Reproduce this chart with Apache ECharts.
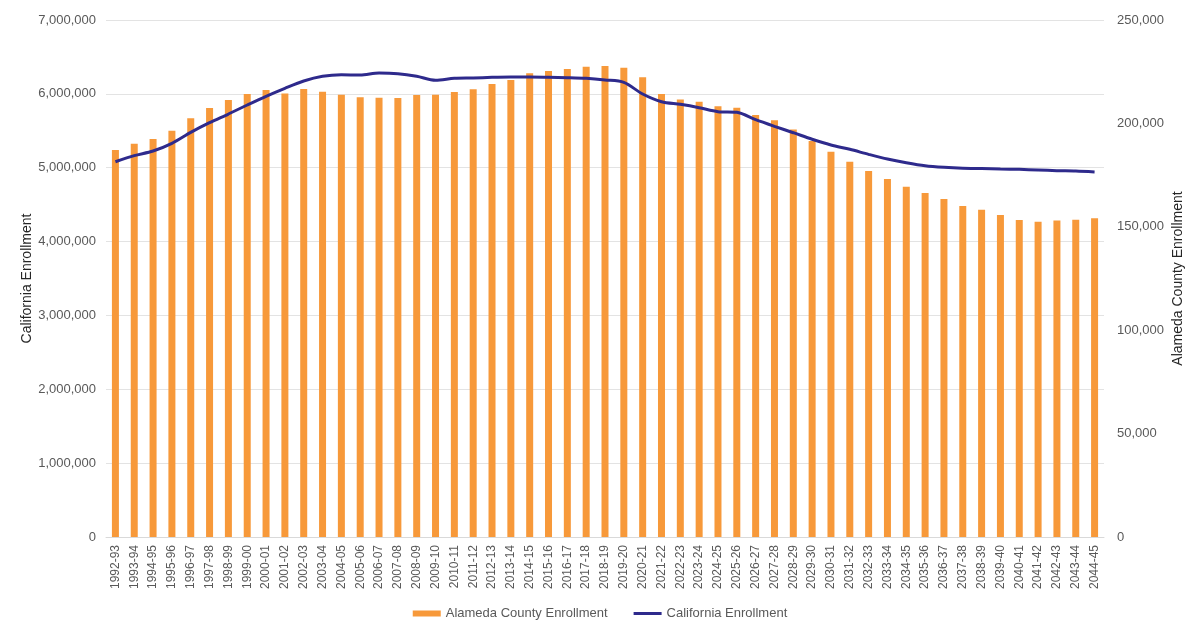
<!DOCTYPE html>
<html>
<head>
<meta charset="utf-8">
<script src="https://cdn.jsdelivr.net/npm/echarts@6/dist/echarts.min.js"></script>
<style>
  html, body { margin: 0; padding: 0; background: #fff; }
  #chart { width: 1200px; height: 625px; }
</style>
</head>
<body>
<div id="chart"></div>
<script>
// school years on the x axis
const years = [
  '1992-93', '1993-94', '1994-95', '1995-96', '1996-97', '1997-98', '1998-99', '1999-00',
  '2000-01', '2001-02', '2002-03', '2003-04', '2004-05', '2005-06', '2006-07', '2007-08',
  '2008-09', '2009-10', '2010-11', '2011-12', '2012-13', '2013-14', '2014-15', '2015-16',
  '2016-17', '2017-18', '2018-19', '2019-20', '2020-21', '2021-22', '2022-23', '2023-24',
  '2024-25', '2025-26', '2026-27', '2027-28', '2028-29', '2029-30', '2030-31', '2031-32',
  '2032-33', '2033-34', '2034-35', '2035-36', '2036-37', '2037-38', '2038-39', '2039-40',
  '2040-41', '2041-42', '2042-43', '2043-44', '2044-45'
];

// bars, right axis
const alamedaEnrollment = [
  187100, 190200, 192500, 196500, 202500, 207400, 211300, 214200, 216200, 214500,
  216600, 215300, 213900, 212600, 212400, 212300, 213700, 213900, 215200, 216500,
  219000, 221000, 224200, 225300, 226300, 227400, 227800, 226900, 222300, 214200,
  211600, 210500, 208300, 207600, 204100, 201500, 197000, 191500, 186300, 181500,
  177000, 173100, 169400, 166400, 163400, 160100, 158300, 155700, 153300, 152500,
  153000, 153400, 154100
];

// line, left axis
const californiaEnrollment = [
  5081000, 5163000, 5226000, 5330000, 5479000, 5610000, 5727000, 5849000, 5967000, 6075000,
  6174000, 6238000, 6259000, 6255000, 6282000, 6273000, 6238000, 6183000, 6210000, 6215000,
  6224000, 6228000, 6228000, 6224000, 6219000, 6210000, 6188000, 6156000, 5998000, 5894000,
  5858000, 5813000, 5759000, 5750000, 5650000, 5560000, 5474000, 5385000, 5308000, 5249000,
  5181000, 5118000, 5068000, 5027000, 5005000, 4992000, 4988000, 4983000, 4978000, 4969000,
  4960000, 4955000, 4942000
];

const font = '"Liberation Sans", Arial, sans-serif';
const fmt = v => v.toLocaleString('en-US');

const chart = echarts.init(document.getElementById('chart'));
chart.setOption({
  animation: false,
  textStyle: { fontFamily: font },
  grid: { left: 106, right: 96, top: 20, bottom: 88, containLabel: false },
  legend: {
    bottom: 0,
    left: 'center',
    itemWidth: 28,
    itemHeight: 6,
    itemGap: 26,
    textStyle: { fontSize: 13, color: '#595959', fontFamily: font },
    data: [
      { name: 'Alameda County Enrollment', icon: 'rect' },
      // plain line in the legend, no dot
      { name: 'California Enrollment', icon: 'path://M0,0H28V3H0Z' }
    ]
  },
  xAxis: {
    type: 'category',
    data: years,
    axisLine: { lineStyle: { color: '#d9d9d9' } },
    axisTick: { show: false },
    axisLabel: { interval: 0, rotate: 90, fontSize: 12, color: '#595959', margin: 8 }
  },
  yAxis: [
    {
      type: 'value',
      min: 0,
      max: 7000000,
      interval: 1000000,
      name: 'California Enrollment',
      nameLocation: 'middle',
      nameRotate: 90,
      nameGap: 72,
      nameMoveOverlap: false,
      nameTextStyle: { fontSize: 14, color: '#262626' },
      axisLine: { show: false },
      axisTick: { show: false },
      axisLabel: { fontSize: 13, color: '#595959', margin: 10, formatter: fmt },
      splitLine: { lineStyle: { color: '#e3e3e3' } }
    },
    {
      type: 'value',
      min: 0,
      max: 250000,
      interval: 50000,
      name: 'Alameda County Enrollment',
      nameLocation: 'middle',
      nameRotate: 90,
      nameGap: 67,
      nameMoveOverlap: false,
      nameTextStyle: { fontSize: 14, color: '#262626' },
      axisLine: { show: false },
      axisTick: { show: false },
      axisLabel: { fontSize: 13, color: '#595959', margin: 13, formatter: fmt },
      splitLine: { show: false }
    }
  ],
  series: [
    {
      name: 'Alameda County Enrollment',
      type: 'bar',
      yAxisIndex: 1,
      barWidth: 7,
      itemStyle: { color: '#f7993a' },
      data: alamedaEnrollment
    },
    {
      name: 'California Enrollment',
      type: 'line',
      yAxisIndex: 0,
      smooth: 0.3,
      symbol: 'none',
      lineStyle: { color: '#2e2a8c', width: 3 },
      itemStyle: { color: '#2e2a8c' },
      data: californiaEnrollment
    }
  ]
});
</script>
</body>
</html>
